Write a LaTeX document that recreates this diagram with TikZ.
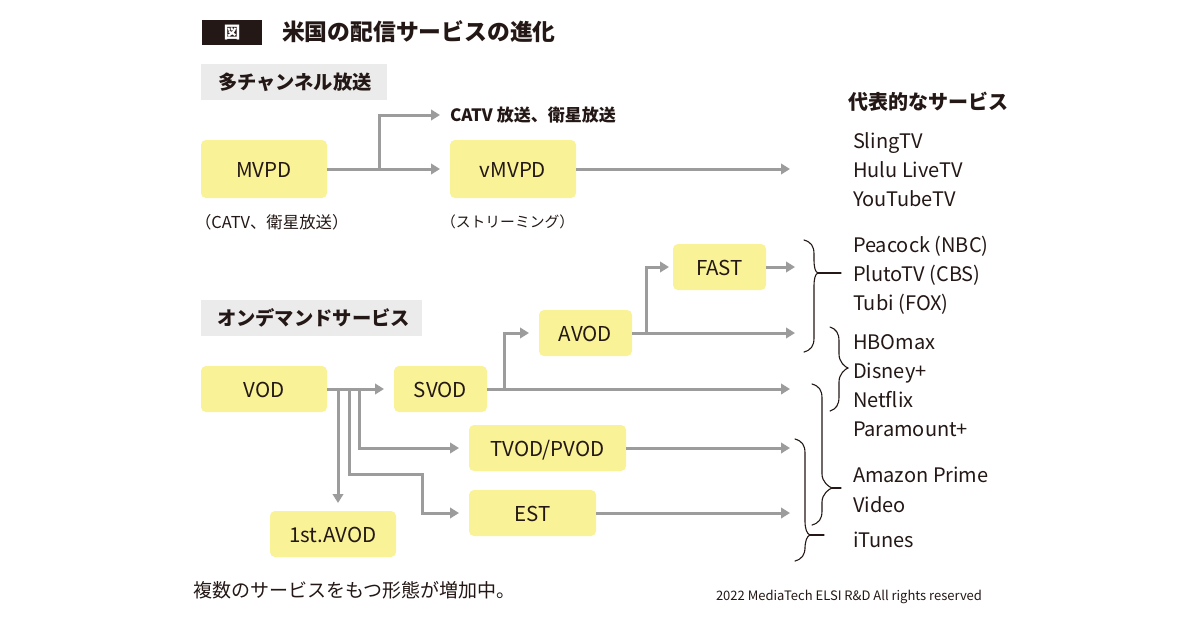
\documentclass[tikz,border=0pt]{standalone}
\usepackage{fontspec}
\setmainfont{Noto Sans CJK JP}
\usetikzlibrary{arrows.meta}
\definecolor{ink}{HTML}{231815}
\definecolor{boxy}{HTML}{F9F296}
\definecolor{band}{HTML}{EBEBEB}
\definecolor{conn}{HTML}{9C9C9C}
\tikzset{
  x=1pt,y=-1pt,
  every node/.style={text=ink,inner sep=0pt,outer sep=0pt},
  svcbox/.style={fill=boxy,rounded corners=5pt,font=\fontsize{20.5}{24}\selectfont,anchor=center,text height=17pt,text depth=0pt},
  bandbox/.style={fill=band},
  arr/.style={draw=conn,line width=3pt,-{Triangle[length=9pt,width=10.5pt]}},
  brc/.style={draw=ink,line width=1.1pt,line cap=round},
  svc/.style={anchor=base west,font=\fontsize{20}{24}\selectfont},
  head/.style={anchor=west,font=\fontsize{19.3}{22}\selectfont\bfseries},
  note/.style={anchor=west,font=\fontsize{16.4}{19}\selectfont},
}
\newcommand{\mybrace}[6]{% xend xvert xtip ytop ymid ybot
  \draw[brc] (#1,#4) .. controls (#2-3,#4+2) and (#2,#4+6) .. (#2,#4+14)
    -- (#2,#5-14) .. controls (#2,#5-6) and (#3-3,#5-1) .. (#3,#5)
    .. controls (#3-3,#5+1) and (#2,#5+6) .. (#2,#5+14)
    -- (#2,#6-14) .. controls (#2,#6-6) and (#2-3,#6-2) .. (#1,#6);}
\begin{document}
\begin{tikzpicture}
\path[use as bounding box,fill=white] (0,0) rectangle (1200,630);

% title
\node[fill=ink,minimum width=60pt,minimum height=25pt,anchor=center,text=white,font=\fontsize{16.5}{18}\selectfont\bfseries] (tag) at (232,32.5) {図};
\node[anchor=west,font=\fontsize{22.8}{26}\selectfont\bfseries] (title) at (282,32) {米国の配信サービスの進化};

% bands
\node[bandbox,minimum width=186pt,minimum height=36pt,anchor=center] (b1) at (294,82) {};
\node[head] (b1t) at (218,82) {多チャンネル放送};
\node[bandbox,minimum width=221pt,minimum height=36pt,anchor=center] (b2) at (311.5,318) {};
\node[head] (b2t) at (217,318) {オンデマンドサービス};

% boxes
\node[svcbox,minimum width=126pt,minimum height=58pt] (mvpd) at (264,169) {MVPD};
\node[svcbox,minimum width=126pt,minimum height=58pt] (vmvpd) at (513,169) {vMVPD};
\node[svcbox,minimum width=126pt,minimum height=46pt] (vod) at (264,389) {VOD};
\node[svcbox,minimum width=93pt,minimum height=46pt] (svod) at (440.5,389) {SVOD};
\node[svcbox,minimum width=93pt,minimum height=46pt] (avod) at (585.5,333) {AVOD};
\node[svcbox,minimum width=93pt,minimum height=46pt] (fast) at (719.5,267) {FAST};
\node[svcbox,minimum width=157pt,minimum height=46pt] (tvod) at (547.5,448) {TVOD/PVOD};
\node[svcbox,minimum width=127pt,minimum height=46pt] (est) at (532.5,513) {EST};
\node[svcbox,minimum width=126pt,minimum height=46pt] (first) at (333,534) {1st.AVOD};

% notes
\node[anchor=west,font=\fontsize{17}{19}\selectfont\bfseries] (catv) at (450,115) {CATV 放送、衛星放送};
\node[note] (n1) at (195,222) {（CATV、衛星放送）};
\node[anchor=west,font=\fontsize{14.8}{19}\selectfont] (n2) at (441,222) {（ストリーミング）};
\node[anchor=west,font=\fontsize{19}{22}\selectfont] (foot) at (193,590) {複数のサービスをもつ形態が増加中。};
\node[anchor=west,font=\fontsize{13}{16}\selectfont] (copy) at (716,597) {2022 MediaTech ELSI R\&D All rights reserved};

% right column
\node[anchor=west,font=\fontsize{20}{22}\selectfont\bfseries] (rep) at (848,102) {代表的なサービス};
\node[svc] (s1) at (853,148) {SlingTV};
\node[svc] (s2) at (853,177) {Hulu LiveTV};
\node[svc] (s3) at (853,206) {YouTubeTV};
\node[svc] (s4) at (853,252) {Peacock (NBC)};
\node[svc] (s5) at (853,281) {PlutoTV (CBS)};
\node[svc] (s6) at (853,310) {Tubi (FOX)};
\node[svc] (s7) at (853,349) {HBOmax};
\node[svc] (s8) at (853,378) {Disney+};
\node[svc] (s9) at (853,407) {Netflix};
\node[svc] (s10) at (853,436) {Paramount+};
\node[svc] (s11) at (853,482) {Amazon Prime};
\node[svc] (s12) at (853,512) {Video};
\node[svc] (s13) at (853,547) {iTunes};

% free ends and junctions
\coordinate (jm) at (379,169);
\coordinate (catvin) at (440,115);
\coordinate (e1) at (790,170);
\coordinate (e2) at (795,271);
\coordinate (e3) at (795,331);
\coordinate (e4) at (790,389);
\coordinate (e5) at (790,449);
\coordinate (e6) at (790,513);

% connectors
\draw[arr,shorten >=10pt] (mvpd.east) -- (vmvpd.west);
\draw[arr] (jm) |- (catvin);
\draw[arr] (vmvpd.east) -- (vmvpd.east -| e1);
\draw[arr,shorten >=10pt] (vod.east) -- (svod.west);
\draw[arr] (svod.east) -- (e4);
\draw[arr,shorten >=10pt] (504,389) |- (avod.west);
\draw[arr] (avod.east) -- (avod.east -| e3);
\draw[arr,shorten >=4pt] (646,333) |- (fast.west);
\draw[arr] (fast.east) -- (fast.east -| e2);
\draw[arr,shorten >=8pt] (338,389) -- (first.north -| 338,0);
\draw[arr,shorten >=10pt] (359,389) |- (tvod.west);
\draw[arr,shorten >=10pt] (349,389) -- (349,474) -- (422,474) -- (422,513) -- (est.west);
\draw[arr] (tvod.east) -- (tvod.east -| e5);
\draw[arr] (est.east) -- (est.east -| e6);

% braces
\mybrace{804}{814}{818}{240}{273}{352}
\draw[brc] (818,273) -- (841,273);
\mybrace{830}{839}{848}{327}{368}{411}
\mybrace{812}{822}{832}{384}{488}{525}
\draw[brc] (832,488) -- (841,488);
\mybrace{795}{805}{810}{439}{535}{561}
\draw[brc] (810,535) -- (824,535);
\end{tikzpicture}
\end{document}
